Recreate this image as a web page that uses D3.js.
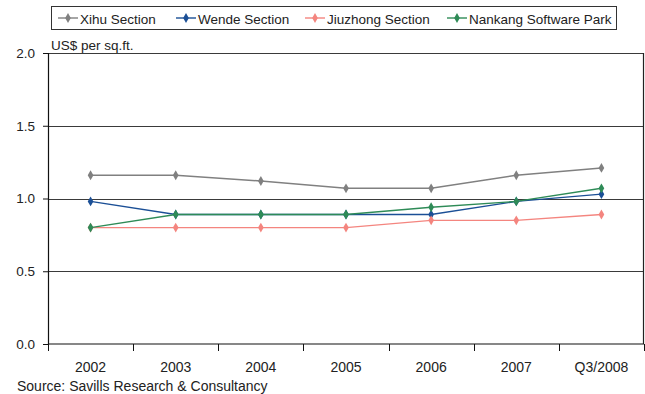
<!DOCTYPE html>
<html>
<head>
<meta charset="utf-8">
<script src="https://cdn.jsdelivr.net/npm/d3@7"></script>
<style>
  html, body { margin: 0; padding: 0; background: #fff; }
  svg { display: block; font-family: "Liberation Sans", Arial, sans-serif; }
</style>
</head>
<body>
<svg id="chart" width="645" height="394"></svg>
<script>
// Office rents by district, US$ per sq.ft.
const years = ["2002", "2003", "2004", "2005", "2006", "2007", "Q3/2008"];
const xihu = [1.16, 1.16, 1.12, 1.07, 1.07, 1.16, 1.21];
const wende = [0.98, 0.89, 0.89, 0.89, 0.89, 0.98, 1.03];
const jiuzhong = [0.80, 0.80, 0.80, 0.80, 0.85, 0.85, 0.89];
const nankang = [0.80, 0.89, 0.89, 0.89, 0.94, 0.98, 1.07];
const yTicks = [0.0, 0.5, 1.0, 1.5, 2.0];
const seriesNames = ["Xihu Section", "Wende Section", "Jiuzhong Section", "Nankang Software Park"];
const seriesColors = ["#808080", "#1b4f96", "#f4857f", "#2e8b57"];
const unitLabel = "US$ per sq.ft.";
const sourceNote = "Source: Savills Research & Consultancy";

const series = [xihu, wende, jiuzhong, nankang].map((values, i) => ({
  name: seriesNames[i], color: seriesColors[i], values
}));

const svg = d3.select("#chart");
const plot = { left: 48, right: 644, top: 53, bottom: 344 };

const x = d3.scaleBand().domain(years).range([plot.left, plot.right]);
const y = d3.scaleLinear().domain([0, 2]).range([plot.bottom, plot.top]);

// horizontal gridlines
svg.append("g")
  .selectAll("line")
  .data(yTicks.filter(d => d > 0))
  .join("line")
  .attr("x1", plot.left).attr("x2", plot.right)
  .attr("y1", d => Math.round(y(d)) + 0.5).attr("y2", d => Math.round(y(d)) + 0.5)
  .attr("stroke", "#3a3a3a").attr("stroke-width", 1);

// right border
svg.append("line")
  .attr("x1", plot.right - 0.5).attr("x2", plot.right - 0.5)
  .attr("y1", y(2)).attr("y2", plot.bottom)
  .attr("stroke", "#222").attr("stroke-width", 1.2);

// y axis
const yAxis = d3.axisLeft(y).tickValues(yTicks).tickFormat(d3.format(".1f")).tickSize(5).tickPadding(8);
const gy = svg.append("g").attr("transform", `translate(${plot.left},0)`).call(yAxis);
gy.select(".domain").attr("stroke", "#111").attr("stroke-width", 1.2);
gy.selectAll(".tick line").attr("stroke", "#111");
gy.selectAll(".tick text").attr("fill", "#222").attr("font-size", 13.5)
  .attr("font-family", "Liberation Sans, Arial, sans-serif");

// x axis: ticks between categories
const gx = svg.append("g").attr("transform", `translate(0,${plot.bottom})`);
gx.append("line")
  .attr("x1", plot.left).attr("x2", plot.right)
  .attr("stroke", "#111").attr("stroke-width", 1.2);
const bounds = years.map(d => x(d)).concat([plot.right]);
gx.selectAll("line.tk").data(bounds).join("line").attr("class", "tk")
  .attr("x1", d => Math.round(d) + 0.5).attr("x2", d => Math.round(d) + 0.5)
  .attr("y1", 0).attr("y2", 7)
  .attr("stroke", "#111");
gx.selectAll("text").data(years).join("text")
  .attr("x", d => x(d) + x.bandwidth() / 2)
  .attr("y", 28)
  .attr("text-anchor", "middle")
  .attr("font-size", 14).attr("fill", "#222")
  .text(d => d);

// unit label
svg.append("text").attr("x", 51).attr("y", 49.5)
  .attr("font-size", 13.5).attr("fill", "#222").text(unitLabel);

// source note
svg.append("text").attr("x", 17).attr("y", 391)
  .attr("font-size", 14).attr("fill", "#222").text(sourceNote);

// diamond marker
const diamond = d3.symbol().type(d3.symbolDiamond).size(28);

const line = d3.line()
  .x((d, i) => x(years[i]) + x.bandwidth() / 2)
  .y(d => y(d));

const lines = svg.append("g");
series.forEach(s => {
  const g = lines.append("g");
  g.append("path").datum(s.values)
    .attr("d", line).attr("fill", "none")
    .attr("stroke", s.color).attr("stroke-width", 1.4);
  g.selectAll("path.m").data(s.values).join("path").attr("class", "m")
    .attr("d", diamond)
    .attr("transform", (d, i) => `translate(${x(years[i]) + x.bandwidth() / 2},${y(d)})`)
    .attr("fill", s.color);
});

// legend
const legend = svg.append("g");
legend.append("rect")
  .attr("x", 51.5).attr("y", 6.5).attr("width", 565).attr("height", 23)
  .attr("fill", "#fff").attr("stroke", "#333").attr("stroke-width", 1);
const legendX = [58, 176, 305, 447];
series.forEach((s, i) => {
  const g = legend.append("g").attr("transform", `translate(${legendX[i]},18)`);
  g.append("line").attr("x1", 0).attr("x2", 20).attr("stroke", s.color).attr("stroke-width", 1.4);
  g.append("path").attr("d", diamond).attr("transform", "translate(10,0)").attr("fill", s.color);
  g.append("text").attr("x", 22).attr("y", 5.5).attr("font-size", 13.5).attr("fill", "#222").text(s.name);
});
</script>
</body>
</html>
